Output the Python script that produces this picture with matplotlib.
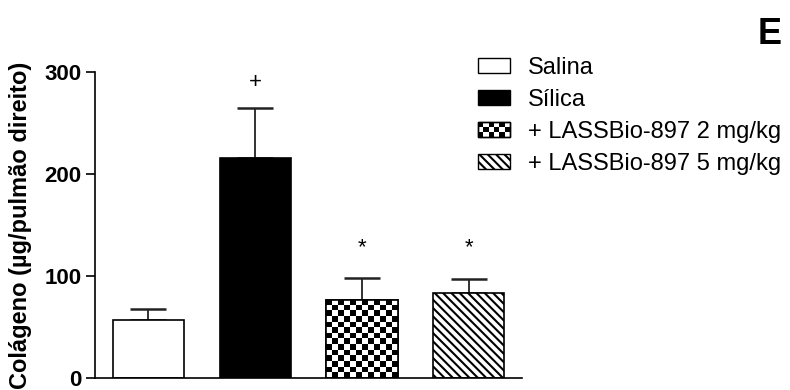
import numpy as np
import matplotlib
matplotlib.use("Agg")
import matplotlib.pyplot as plt
from matplotlib.patches import Rectangle
from matplotlib.legend_handler import HandlerBase

plt.rcParams['font.family'] = ['Liberation Sans', 'DejaVu Sans']
plt.rcParams['hatch.linewidth'] = 1.5

# data
groups = ['Salina', 'Sílica', '+ LASSBio-897 2 mg/kg', '+ LASSBio-897 5 mg/kg']
means = [57, 216, 77, 84]
sems = [11, 49, 21, 13]
marks = ['', '+', '*', '*']
ylabel = 'Colágeno (µg/pulmão direito)'
yticks = [0, 100, 200, 300]

HATCH = '\\\\\\\\'


class CheckerHandler(HandlerBase):
    '''draws a small checkerboard box for the legend'''

    def create_artists(self, legend, orig_handle, xdescent, ydescent,
                       width, height, fontsize, trans):
        arts = [Rectangle((-xdescent, -ydescent), width, height,
                          facecolor='white', edgecolor='black', lw=1.0,
                          transform=trans)]
        nx, ny = 6, 3
        cw, ch = width / nx, height / ny
        for i in range(nx):
            for j in range(ny):
                if (i + j) % 2 == 0:
                    arts.append(Rectangle((-xdescent + i * cw, -ydescent + j * ch),
                                          cw, ch, facecolor='black', lw=0,
                                          transform=trans))
        arts.append(Rectangle((-xdescent, -ydescent), width, height,
                              facecolor='none', edgecolor='black', lw=1.0,
                              transform=trans))
        return arts


fig = plt.figure(figsize=(7.9, 3.9), dpi=100)
ax = fig.add_axes([0.1203, 0.0295, 0.5407, 0.7859])

x = np.arange(len(groups))
faces = ['white', 'black', 'white', 'white']
hatches = [None, None, None, HATCH]
bars = []
for xi, m, fc, h in zip(x, means, faces, hatches):
    b = ax.bar(xi, m, width=0.667, color=fc, edgecolor='black', linewidth=1.2,
               hatch=h, zorder=2)
    bars.append(b[0])

ax.errorbar(x, means, yerr=[np.zeros(len(sems)), sems], fmt='none',
            ecolor='#222222', elinewidth=1.3, capsize=13, capthick=1.8, zorder=1)

ax.set_xlim(-0.5, 3.5)
ax.set_ylim(0, 300)

# checkerboard fill for the 2 mg/kg bar
fig.canvas.draw()
cb = bars[2]
bb = cb.get_window_extent()
ncol = max(1, int(round(bb.width / 5.8)))
nrow = max(1, int(round(bb.height / 5.8)))
board = (np.indices((nrow, ncol)).sum(axis=0) % 2).astype(float)
im = ax.imshow(board, cmap='gray', interpolation='nearest', aspect='auto',
               extent=(cb.get_x(), cb.get_x() + cb.get_width(), 0, cb.get_height()),
               zorder=2.1)
im.set_clip_path(cb)
ax.bar(x[2], means[2], width=0.667, color='none', edgecolor='black',
       linewidth=1.2, zorder=2.2)
ax.set_xlim(-0.5, 3.5)
ax.set_ylim(0, 300)

for xi, m, s, t in zip(x, means, sems, marks):
    if t == '+':
        ax.text(xi, 290, t, ha='center', va='center', fontsize=16)
    elif t == '*':
        ax.text(xi, 128, t, ha='center', va='center', fontsize=16)

ax.spines['top'].set_visible(False)
ax.spines['right'].set_visible(False)
for sp in ('left', 'bottom'):
    ax.spines[sp].set_linewidth(1.2)
ax.set_yticks(yticks)
ax.set_xticks([])
ax.tick_params(axis='y', direction='out', length=6.5, width=1.2, labelsize=16,
               pad=3)
for lab in ax.get_yticklabels():
    lab.set_fontweight('bold')
ax.set_ylabel(ylabel, fontsize=17, fontweight='bold', labelpad=9)

handles = [Rectangle((0, 0), 1, 1, facecolor='white', edgecolor='black', lw=1.0),
           Rectangle((0, 0), 1, 1, facecolor='black', edgecolor='black', lw=1.0),
           Rectangle((0, 0), 1, 1, facecolor='white', edgecolor='black', lw=1.0),
           Rectangle((0, 0), 1, 1, facecolor='white', edgecolor='black', lw=1.0,
                     hatch=HATCH)]
leg = fig.legend(handles, groups, loc='upper left', bbox_to_anchor=(0.605, 0.855),
                 frameon=False, fontsize=17, handlelength=1.36, handleheight=0.6,
                 labelspacing=0.43, handletextpad=0.76, borderpad=0,
                 borderaxespad=0,
                 handler_map={handles[2]: CheckerHandler()})

fig.text(0.99, 0.887, 'E', ha='right', va='baseline', fontsize=26, fontweight='bold')

fig.savefig('out.png', dpi=100)
